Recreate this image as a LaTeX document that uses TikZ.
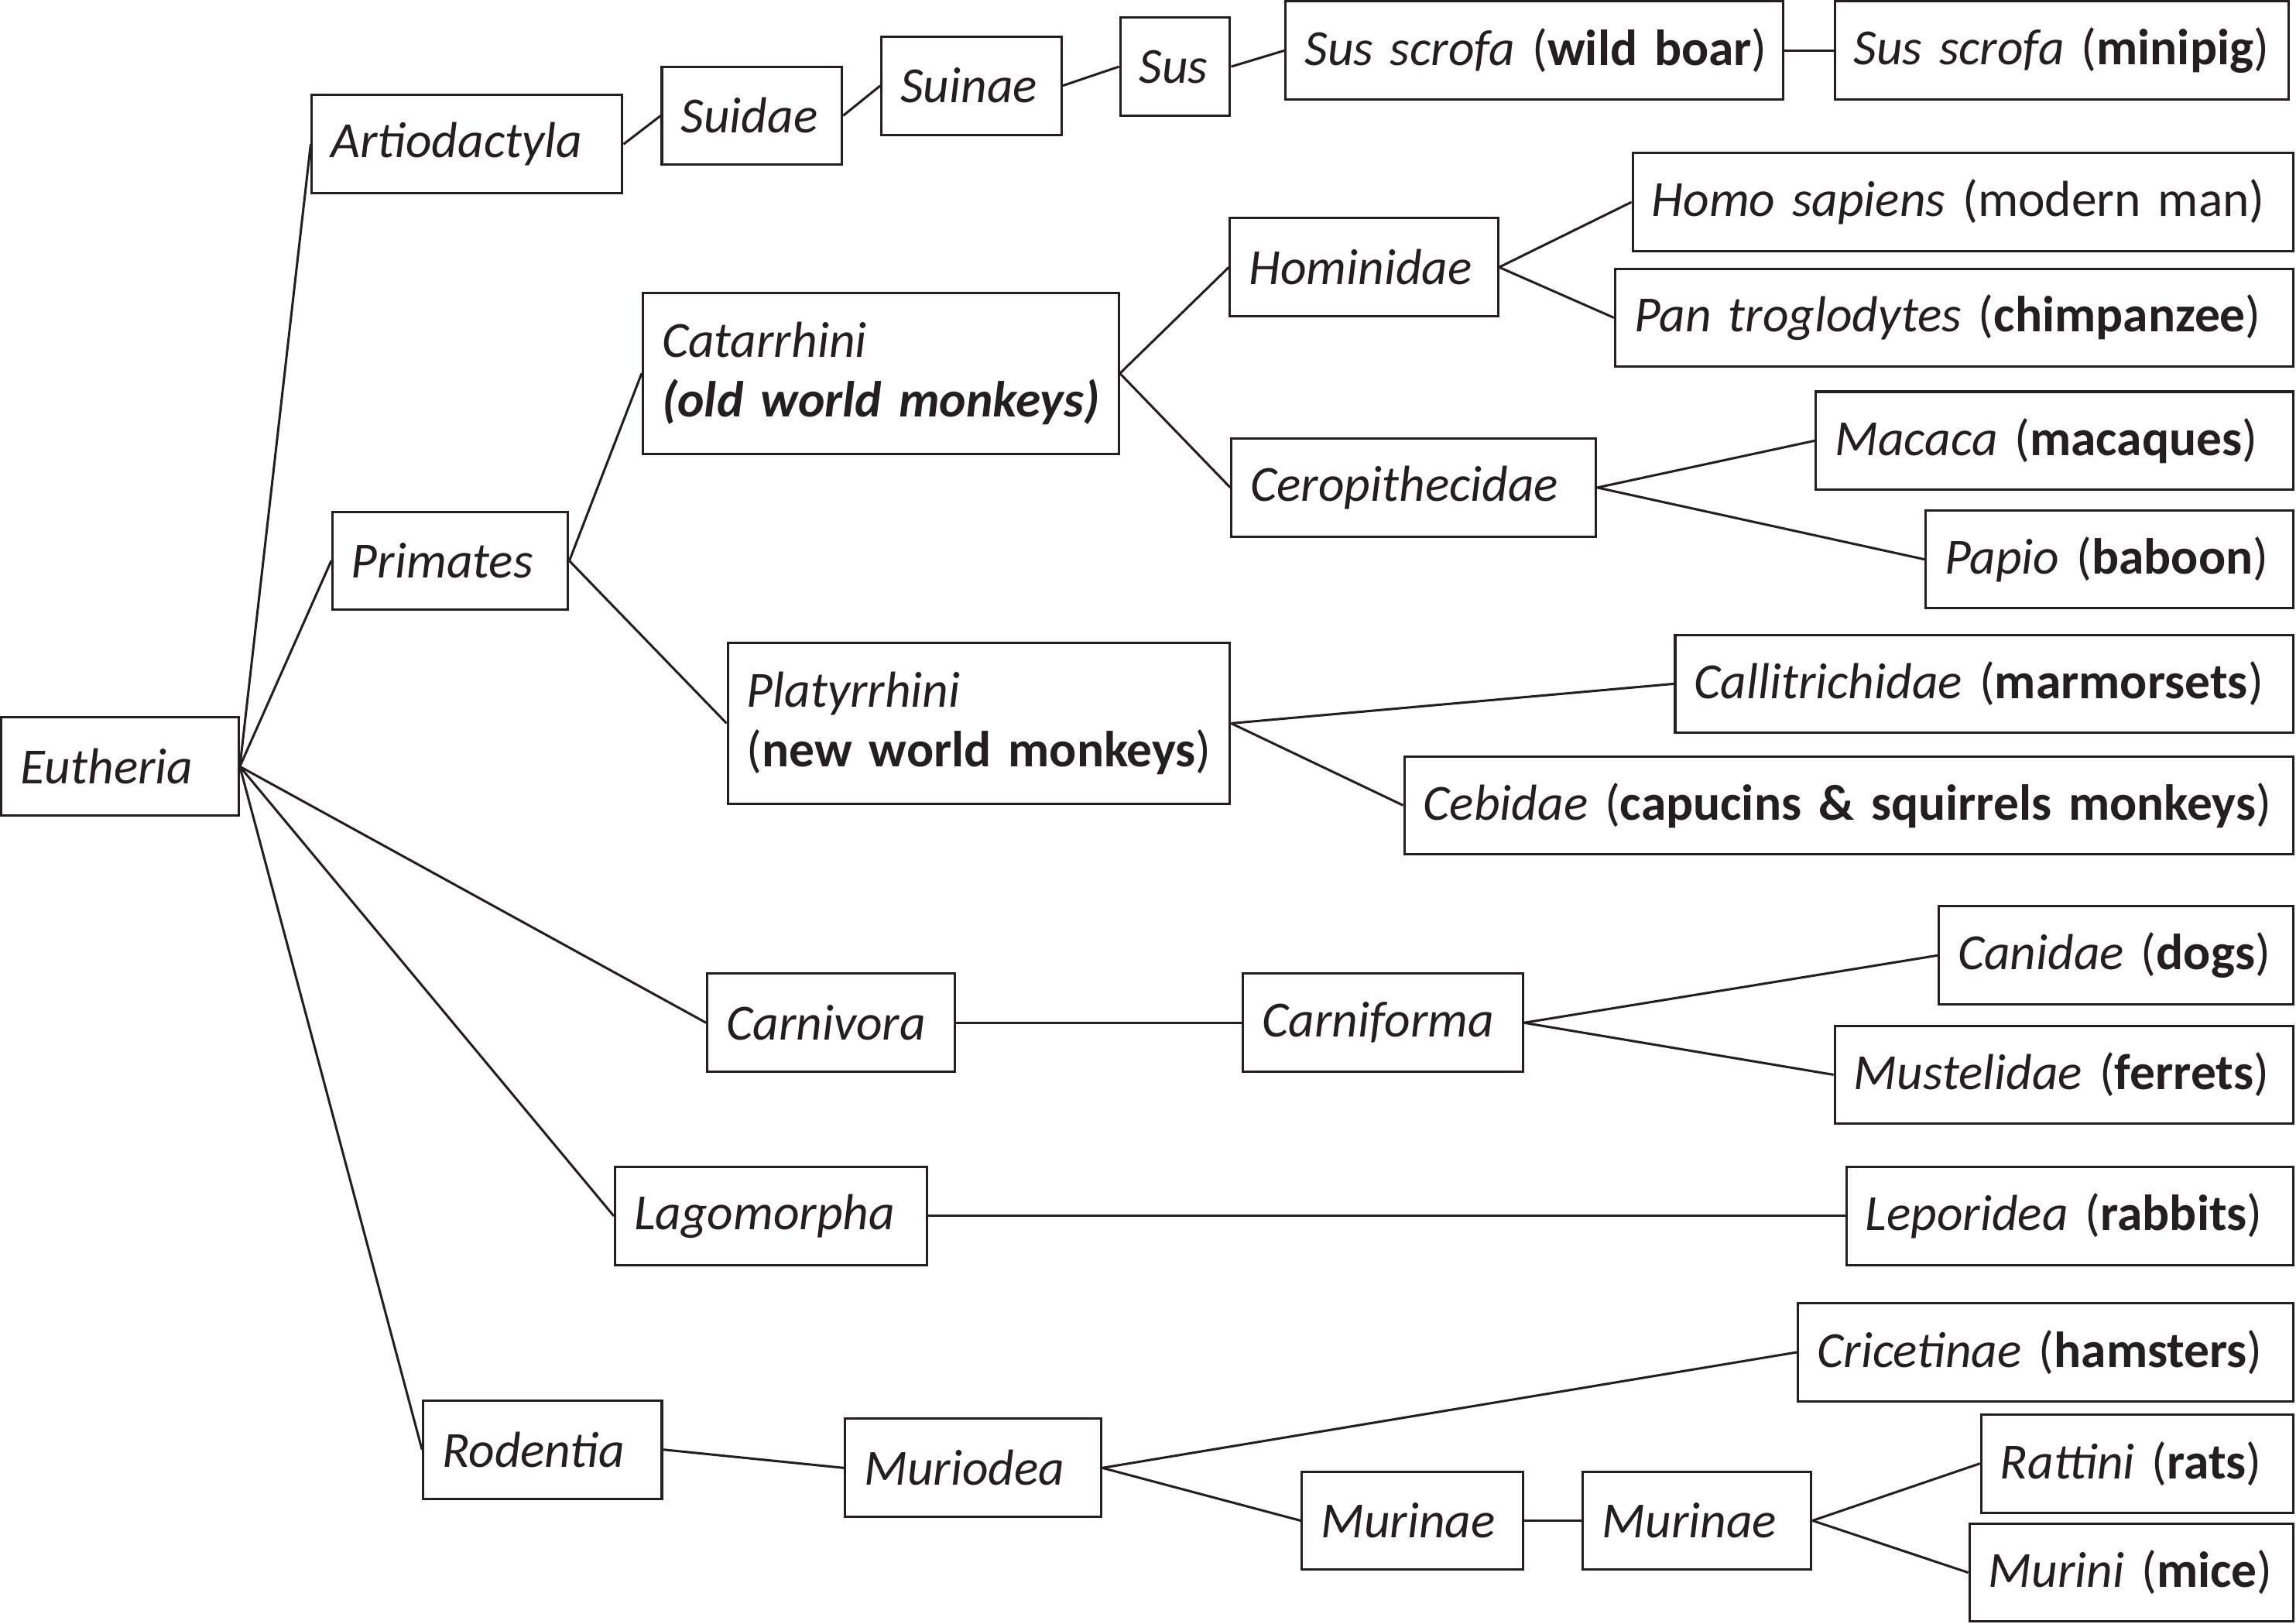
\documentclass[tikz,border=0pt]{standalone}
\usepackage{fontspec}
\setmainfont{Carlito}
\definecolor{ink}{HTML}{231F20}
\tikzset{
  box/.style={draw=ink, line width=1.6pt, rectangle, inner xsep=13pt, inner ysep=0pt,
    minimum height=67pt, align=left, text=ink,
    font=\fontsize{34.6}{41}\selectfont},
  tall/.style={minimum height=110pt},
  tw/.style={text width=#1pt},
  link/.style={draw=ink, line width=1.6pt}
}
\begin{document}
\begin{tikzpicture}[x=1pt,y=-1pt]
\useasboundingbox (0,0) rectangle (1568,1109);
\node[box,tw=136] (eu) at (82,523.5) {\mbox{\textit{Eutheria}}};
\node[box,tw=186] (ar) at (319,98.5) {\mbox{\textit{Artiodactyla}}};
\node[box,tw=97] (sd) at (513.5,79) {\mbox{\textit{Suidae}}};
\node[box,tw=97] (sn) at (663.5,58.5) {\mbox{\textit{Suinae}}};
\node[box,tw=49] (su) at (802.5,45.5) {\mbox{\textit{Sus}}};
\node[box,tw=314] (wb) at (1048,34.5) {\mbox{\textit{Sus scrofa} (\textbf{wild boar})}};
\node[box,tw=284] (mp) at (1408,34.5) {\mbox{\textit{Sus scrofa} (\textbf{minipig})}};
\node[box,tw=135] (pr) at (307.5,383) {\mbox{\textit{Primates}}};
\node[box,tall,tw=299] (ca) at (601.5,255) {\mbox{\textit{Catarrhini}}\\\mbox{\textbf{\textit{(old world monkeys)}}}};
\node[box,tw=157] (ho) at (931.5,182.5) {\mbox{\textit{Hominidae}}};
\node[box,tw=425] (hs) at (1340.5,138) {\mbox{\textit{Homo sapiens} (modern man)}};
\node[box,tw=437] (pt) at (1334.5,217) {\mbox{\textit{Pan troglodytes} (\textbf{chimpanzee})}};
\node[box,tw=223] (ce) at (965.5,333) {\mbox{\textit{Ceropithecidae}}};
\node[box,tw=300] (ma) at (1403,301) {\mbox{\textit{Macaca} (\textbf{macaques})}};
\node[box,tw=225] (pa) at (1440.5,382) {\mbox{\textit{Papio} (\textbf{baboon})}};
\node[box,tall,tw=317] (pl) at (668.5,494) {\mbox{\textit{Platyrrhini}}\\\mbox{(\textbf{new world monkeys})}};
\node[box,tw=396] (cl) at (1355,467) {\mbox{\textit{Callitrichidae} (\textbf{marmorsets})}};
\node[box,tw=581] (cb) at (1262.5,550) {\mbox{\textit{Cebidae} (\textbf{capucins \& squirrels monkeys})}};
\node[box,tw=143] (cv) at (567.5,698.5) {\mbox{\textit{Carnivora}}};
\node[box,tw=165] (cf) at (944.5,698.5) {\mbox{\textit{Carniforma}}};
\node[box,tw=216] (cn) at (1445,652.5) {\mbox{\textit{Canidae} (\textbf{dogs})}};
\node[box,tw=287] (mu) at (1409.5,734) {\mbox{\textit{Mustelidae} (\textbf{ferrets})}};
\node[box,tw=187] (lg) at (526.5,830.5) {\mbox{\textit{Lagomorpha}}};
\node[box,tw=279] (lp) at (1413.5,830.5) {\mbox{\textit{Leporidea} (\textbf{rabbits})}};
\node[box,tw=137] (ro) at (370.5,990) {\mbox{\textit{Rodentia}}};
\node[box,tw=149] (md) at (664.5,1002.5) {\mbox{\textit{Muriodea}}};
\node[box,tw=312] (cr) at (1397,923.5) {\mbox{\textit{Cricetinae} (\textbf{hamsters})}};
\node[box,tw=125] (mA) at (964.5,1038.5) {\mbox{\textit{Murinae}}};
\node[box,tw=130] (mB) at (1159,1038.5) {\mbox{\textit{Murinae}}};
\node[box,tw=187] (ra) at (1459.5,999.5) {\mbox{\textit{Rattini} (\textbf{rats})}};
\node[box,tw=195] (mi) at (1455.5,1074) {\mbox{\textit{Murini} (\textbf{mice})}};
% connectors
\foreach \a/\b in {eu/ar,eu/pr,eu/cv,eu/lg,eu/ro,ar/sd,sd/sn,sn/su,su/wb,wb/mp,
  pr/ca,pr/pl,ca/ho,ca/ce,ho/hs,ho/pt,ce/ma,ce/pa,pl/cl,pl/cb,cv/cf,cf/cn,cf/mu,
  lg/lp,ro/md,md/cr,md/mA,mA/mB,mB/ra,mB/mi}
  \draw[link] (\a.east) -- (\b.west);
\end{tikzpicture}
\end{document}
